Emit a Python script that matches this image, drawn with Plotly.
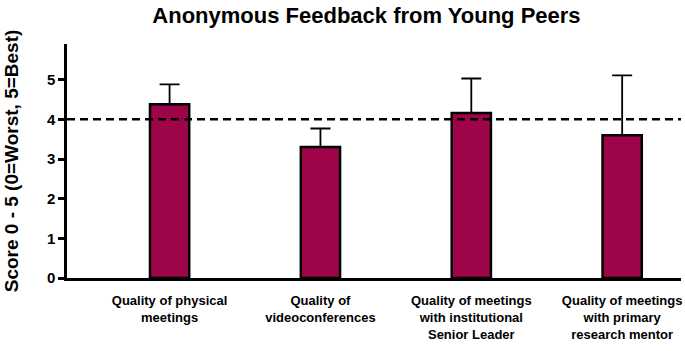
import plotly.graph_objects as go

categories = [
    "Quality of physical<br>meetings",
    "Quality of<br>videoconferences",
    "Quality of meetings<br>with institutional<br>Senior Leader",
    "Quality of meetings<br>with primary<br>research mentor",
]
scores = [4.38, 3.30, 4.16, 3.60]
errors_up = [0.50, 0.47, 0.87, 1.51]
reference_score = 4
y_ticks = [0, 1, 2, 3, 4, 5]

BAR_COLOR = "#9E0548"
FONT = "Liberation Sans, Arial, sans-serif"

fig = go.Figure()
fig.add_trace(go.Bar(
    x=list(range(len(categories))),
    y=scores,
    width=0.26,
    marker=dict(color=BAR_COLOR, line=dict(color="black", width=2.5)),
    error_y=dict(type="data", symmetric=False, array=errors_up,
                 arrayminus=[0] * len(scores),
                 color="black", thickness=1.8, width=10),
    showlegend=False,
))
fig.add_hline(y=reference_score, line=dict(color="black", width=2.5, dash="8px,5px"))

fig.update_layout(
    width=685, height=351,
    margin=dict(l=67, r=4, t=44, b=73, autoexpand=False),
    paper_bgcolor="white", plot_bgcolor="white",
    font=dict(family=FONT, color="black"),
    title=dict(text="<b>Anonymous Feedback from Young Peers</b>",
               font=dict(size=22, family=FONT, color="black"),
               x=0.535, xanchor="center", y=0.955, yanchor="middle"),
)
fig.update_xaxes(
    range=[-0.68, 3.39], automargin=False,
    tickmode="array", tickvals=list(range(len(categories))),
    ticktext=["<b>" + c.replace("<br>", "</b><br><b>") + "</b>" for c in categories],
    tickfont=dict(size=13, family=FONT, color="black"),
    ticklabelstandoff=9,
    showline=True, linecolor="black", linewidth=2.5,
    ticks="", showgrid=False, zeroline=False,
)
fig.update_yaxes(
    range=[0, 5.9], automargin=False,
    tickmode="array", tickvals=y_ticks, ticktext=[f"<b>{v}</b>" for v in y_ticks],
    tickfont=dict(size=15, family=FONT, color="black"),
    ticks="outside", ticklen=6, tickwidth=2.5, tickcolor="black",
    showline=True, linecolor="black", linewidth=2.5,
    showgrid=False, zeroline=False,
    title=dict(text="<b>Score 0 - 5 (0=Worst, 5=Best)</b>",
               font=dict(size=19, family=FONT, color="black"), standoff=24),
)

fig.write_html("out.html", config={"displayModeBar": False},
               post_script="document.body.style.margin='0';document.body.style.overflow='hidden';")
